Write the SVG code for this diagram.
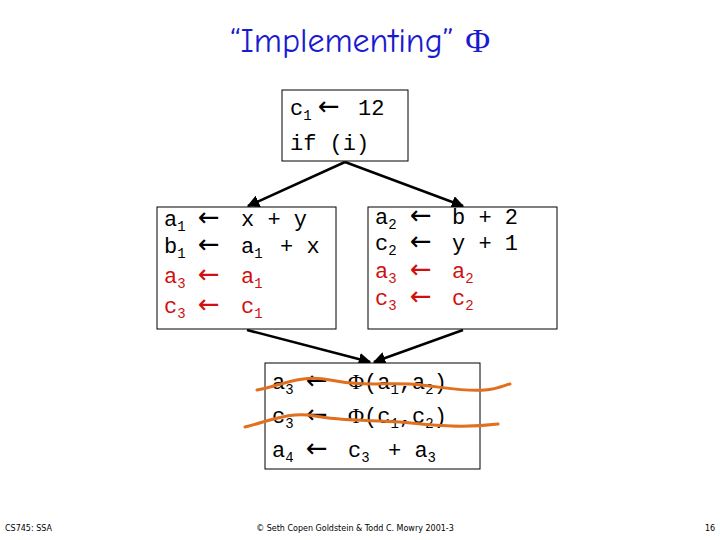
<svg xmlns="http://www.w3.org/2000/svg" width="720" height="540" viewBox="0 0 720 540">
<style>
.box{fill:#fff;stroke:#000;stroke-width:1}
.c{font-family:"Liberation Mono",monospace;font-size:22px;fill:#000}
.r{fill:#d01010}
.s{font-size:14px}
.a{font-family:"DejaVu Sans",sans-serif;font-size:26px}
.e{stroke:#000;stroke-width:2.5;fill:none;marker-end:url(#ah)}
.w{stroke:#e07020;stroke-width:3;fill:none;stroke-linecap:round}
.f{font-family:"DejaVu Sans",sans-serif;font-size:8px;fill:#000}
</style>
<defs><marker id="ah" viewBox="0 0 10 10" refX="9" refY="5" markerWidth="5" markerHeight="5" orient="auto"><path d="M0,0L10,5L0,10z" fill="#000"/></marker></defs>
<rect width="720" height="540" fill="#fff"/>
<text x="360" y="52" text-anchor="middle" font-family="'Comic Neue','DejaVu Sans',sans-serif" font-size="34" fill="#1a1ad0">“Implementing” <tspan font-family="'Liberation Serif',serif">Φ</tspan></text>
<g id="connectors">
<line class="e" x1="345" y1="162" x2="248" y2="206"/>
<line class="e" x1="345" y1="162" x2="463" y2="206"/>
<line class="e" x1="247" y1="330" x2="370" y2="362"/>
<line class="e" x1="463" y1="330" x2="374" y2="362"/>
</g>
<g id="top">
<rect class="box" x="282" y="90" width="126" height="71"/>
<text class="c" x="290" y="115">c<tspan class="s" dy="5">1</tspan><tspan class="a" dy="-5" x="318">←</tspan><tspan x="358">12</tspan></text>
<text class="c" x="290" y="150">if (i)</text>
</g>
<g id="left">
<rect class="box" x="157" y="207" width="179" height="122"/>
<text class="c" y="226"><tspan x="164">a</tspan><tspan class="s" dy="5">1</tspan><tspan class="a" dy="-5" x="198">←</tspan><tspan x="241">x + y</tspan></text>
<text class="c" y="253"><tspan x="164">b</tspan><tspan class="s" dy="5">1</tspan><tspan class="a" dy="-5" x="198">←</tspan><tspan x="241">a</tspan><tspan class="s" dy="5">1</tspan><tspan dy="-5" x="280">+ x</tspan></text>
<text class="c r" y="283"><tspan x="164">a</tspan><tspan class="s" dy="5">3</tspan><tspan class="a" dy="-5" x="198">←</tspan><tspan x="241">a</tspan><tspan class="s" dy="5">1</tspan></text>
<text class="c r" y="313"><tspan x="164">c</tspan><tspan class="s" dy="5">3</tspan><tspan class="a" dy="-5" x="198">←</tspan><tspan x="241">c</tspan><tspan class="s" dy="5">1</tspan></text>
</g>
<g id="right">
<rect class="box" x="368" y="207" width="189" height="122"/>
<text class="c" y="224"><tspan x="375">a</tspan><tspan class="s" dy="5">2</tspan><tspan class="a" dy="-5" x="410">←</tspan><tspan x="452">b + 2</tspan></text>
<text class="c" y="250"><tspan x="375">c</tspan><tspan class="s" dy="5">2</tspan><tspan class="a" dy="-5" x="410">←</tspan><tspan x="452">y + 1</tspan></text>
<text class="c r" y="278"><tspan x="375">a</tspan><tspan class="s" dy="5">3</tspan><tspan class="a" dy="-5" x="410">←</tspan><tspan x="452">a</tspan><tspan class="s" dy="5">2</tspan></text>
<text class="c r" y="305"><tspan x="375">c</tspan><tspan class="s" dy="5">3</tspan><tspan class="a" dy="-5" x="410">←</tspan><tspan x="452">c</tspan><tspan class="s" dy="5">2</tspan></text>
</g>
<g id="bottom">
<rect class="box" x="265" y="363" width="215" height="106"/>
<text class="c" y="389"><tspan x="272">a</tspan><tspan class="s" dy="5">3</tspan><tspan class="a" dy="-5" x="306">←</tspan><tspan x="348" font-family="'Liberation Serif',serif">Φ</tspan><tspan>(a</tspan><tspan class="s" dy="5">1</tspan><tspan dy="-5">,a</tspan><tspan class="s" dy="5">2</tspan><tspan dy="-5">)</tspan></text>
<text class="c" y="423"><tspan x="272">c</tspan><tspan class="s" dy="5">3</tspan><tspan class="a" dy="-5" x="306">←</tspan><tspan x="348" font-family="'Liberation Serif',serif">Φ</tspan><tspan>(c</tspan><tspan class="s" dy="5">1</tspan><tspan dy="-5">,c</tspan><tspan class="s" dy="5">2</tspan><tspan dy="-5">)</tspan></text>
<text class="c" y="457"><tspan x="272">a</tspan><tspan class="s" dy="5">4</tspan><tspan class="a" dy="-5" x="306">←</tspan><tspan x="348">c</tspan><tspan class="s" dy="5">3</tspan><tspan dy="-5" x="388">+ a</tspan><tspan class="s" dy="5">3</tspan></text>
</g>
<g id="strikes">
<path class="w" d="M257,390 C280,386 300,374 330,380 C360,386 380,383 410,384 C440,386 460,392 485,390 C498,389 505,385 510,384"/>
<path class="w" d="M245,427 C270,421 290,411 315,416 C340,421 370,420 400,422 C440,426 465,428 498,424"/>
</g>
<text class="f" x="5" y="531">CS745: SSA</text>
<text class="f" x="355" y="531" text-anchor="middle">© Seth Copen Goldstein &amp; Todd C. Mowry 2001-3</text>
<text class="f" x="710" y="531" text-anchor="middle">16</text>
</svg>
